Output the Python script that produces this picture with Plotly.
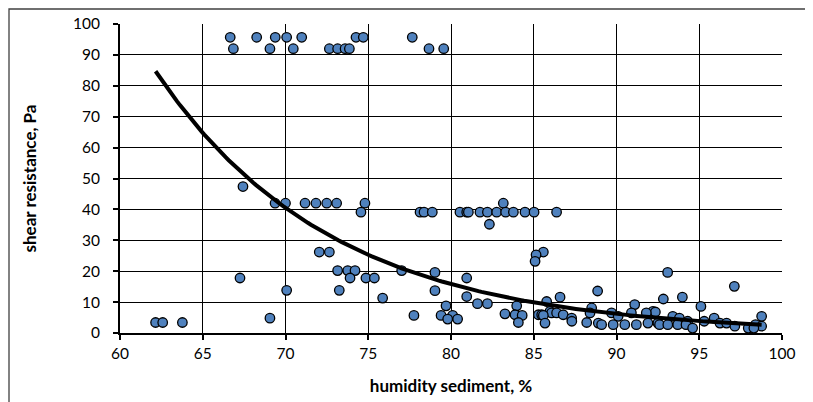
import numpy as np
import plotly.graph_objects as go

# ---- data (humidity %, shear resistance Pa) ----
humidity = [
    62.15, 62.58, 63.77,
    67.25, 67.43, 69.06, 70.07,
    66.66, 68.26, 69.38, 70.07, 70.98, 74.26, 74.70, 77.66,
    66.85, 69.06, 70.47, 72.65, 73.15, 73.60, 73.86, 78.67, 79.56,
    69.37, 70.00, 71.18, 71.84, 72.49, 73.09, 74.80, 83.16,
    74.56, 78.13, 78.37, 78.87, 80.54, 80.95, 81.05, 81.75, 82.20, 82.76,
    83.30, 83.77, 84.47, 85.02, 86.38,
    82.32,
    72.04, 72.65, 85.58, 85.14, 85.08,
    73.15, 73.76, 74.20, 77.02, 79.03, 93.09,
    73.90, 74.86, 75.37, 80.95,
    97.12,
    73.25, 79.03, 88.86,
    75.87, 80.95, 86.59, 93.98, 92.83,
    85.78,
    81.60, 82.20, 91.10, 79.70, 83.97, 95.10,
    88.50,
    85.98, 92.20, 92.35,
    86.08, 86.38, 88.40, 89.70, 90.90, 91.80,
    83.26,
    83.87, 85.28, 85.48, 86.78, 77.76, 79.40, 80.10, 84.30, 85.58,
    90.10, 93.40, 98.77,
    87.29, 93.80, 95.90, 79.80, 80.40,
    87.30, 94.30, 95.30,
    84.07, 88.20, 85.68, 88.90, 91.90, 92.50, 96.25, 96.65,
    89.10, 89.80, 90.50, 91.20, 92.60, 93.10, 93.70, 94.20, 98.40,
    97.15, 98.77,
    94.60, 97.96, 98.30,
]
shear = [
    3.4, 3.4, 3.4,
    17.8, 47.4, 4.8, 13.8,
    95.7, 95.7, 95.7, 95.7, 95.7, 95.7, 95.7, 95.7,
    92.0, 92.0, 92.0, 92.0, 92.0, 92.0, 92.0, 92.0, 92.0,
    42.0, 42.0, 42.0, 42.0, 42.0, 42.0, 42.0, 42.0,
    39.1, 39.1, 39.1, 39.1, 39.1, 39.1, 39.1, 39.1, 39.1, 39.1,
    39.1, 39.1, 39.1, 39.1, 39.1,
    35.2,
    26.2, 26.2, 26.2, 25.3, 23.2,
    20.2, 20.2, 20.2, 20.2, 19.6, 19.6,
    17.8, 17.8, 17.8, 17.8,
    15.1,
    13.8, 13.7, 13.6,
    11.3, 11.8, 11.6, 11.6, 11.0,
    10.2,
    9.5, 9.5, 9.2, 8.8, 8.8, 8.6,
    8.1,
    7.0, 7.0, 6.8,
    6.5, 6.5, 6.5, 6.5, 6.5, 6.5,
    6.2,
    5.9, 5.9, 5.9, 5.9, 5.7, 5.7, 5.7, 5.7, 5.7,
    5.4, 5.4, 5.4,
    4.8, 4.8, 4.8, 4.5, 4.5,
    3.8, 3.8, 3.8,
    3.4, 3.4, 3.2, 3.2, 3.2, 3.2, 3.2, 3.2,
    2.7, 2.7, 2.7, 2.7, 2.7, 2.7, 2.7, 2.7, 2.7,
    2.2, 2.2,
    1.6, 1.6, 1.6,
]

# exponential trendline y = A * exp(-B * x), coefficients
TREND_A = 29180.0
TREND_B = 0.094

x_ticks = [60, 65, 70, 75, 80, 85, 90, 95, 100]
y_ticks = [0, 10, 20, 30, 40, 50, 60, 70, 80, 90, 100]

x_title = "humidity sediment, %"
y_title = "shear resistance, Pa"

trend_x = np.linspace(min(humidity), max(humidity), 200)
trend_y = TREND_A * np.exp(-TREND_B * trend_x)

FONT = "Lato, 'Open Sans', sans-serif"

# plot area (in the figure div): left 112, top 16, 662 x 309
L, T, PW, PH = 112, 16, 662, 309
W, H = 813, 402

fig = go.Figure()
fig.add_trace(go.Scatter(
    x=humidity, y=shear, mode="markers",
    marker=dict(size=9.5, color="#4F81BD", line=dict(color="black", width=1.3)),
    showlegend=False, hoverinfo="x+y",
))
fig.add_trace(go.Scatter(
    x=trend_x, y=trend_y, mode="lines",
    line=dict(color="black", width=4),
    showlegend=False, hoverinfo="skip",
))

border = dict(type="rect", xref="paper", yref="paper",
              x0=(1 - L) / PW, x1=(W + 20 - L) / PW,
              y0=-(H + 20 - T - PH) / PH, y1=(T + PH - 1) / PH,
              line=dict(color="#404040", width=1.3),
              fillcolor="rgba(0,0,0,0)", layer="above")

fig.update_layout(
    template="none",
    width=W, height=H, autosize=False,
    margin=dict(l=L, r=W - L - PW, t=T, b=H - T - PH, autoexpand=False),
    paper_bgcolor="white", plot_bgcolor="white",
    font=dict(family=FONT, size=15, color="black"),
    shapes=[border],
)
fig.update_xaxes(
    range=[60, 100], tickvals=x_ticks, ticktext=[str(v) for v in x_ticks],
    showgrid=True, gridcolor="#000000", gridwidth=1,
    showline=True, linecolor="black", linewidth=2,
    ticks="outside", ticklen=5, tickwidth=1.5, tickcolor="black",
    zeroline=False,
    tickfont=dict(family=FONT, size=15.5),
    title=dict(text="<b>" + x_title + "</b>", font=dict(family=FONT, size=17), standoff=20),
)
fig.update_yaxes(
    range=[0, 100], tickvals=y_ticks, ticktext=[str(v) for v in y_ticks],
    showgrid=True, gridcolor="#000000", gridwidth=1,
    showline=True, linecolor="black", linewidth=2,
    ticks="outside", ticklen=5, tickwidth=1.5, tickcolor="black",
    zeroline=False, ticklabelstandoff=10,
    tickfont=dict(family=FONT, size=15.5),
    title=dict(text="<b>" + y_title + "</b>", font=dict(family=FONT, size=17), standoff=32),
)

fig.write_html("out.html")
